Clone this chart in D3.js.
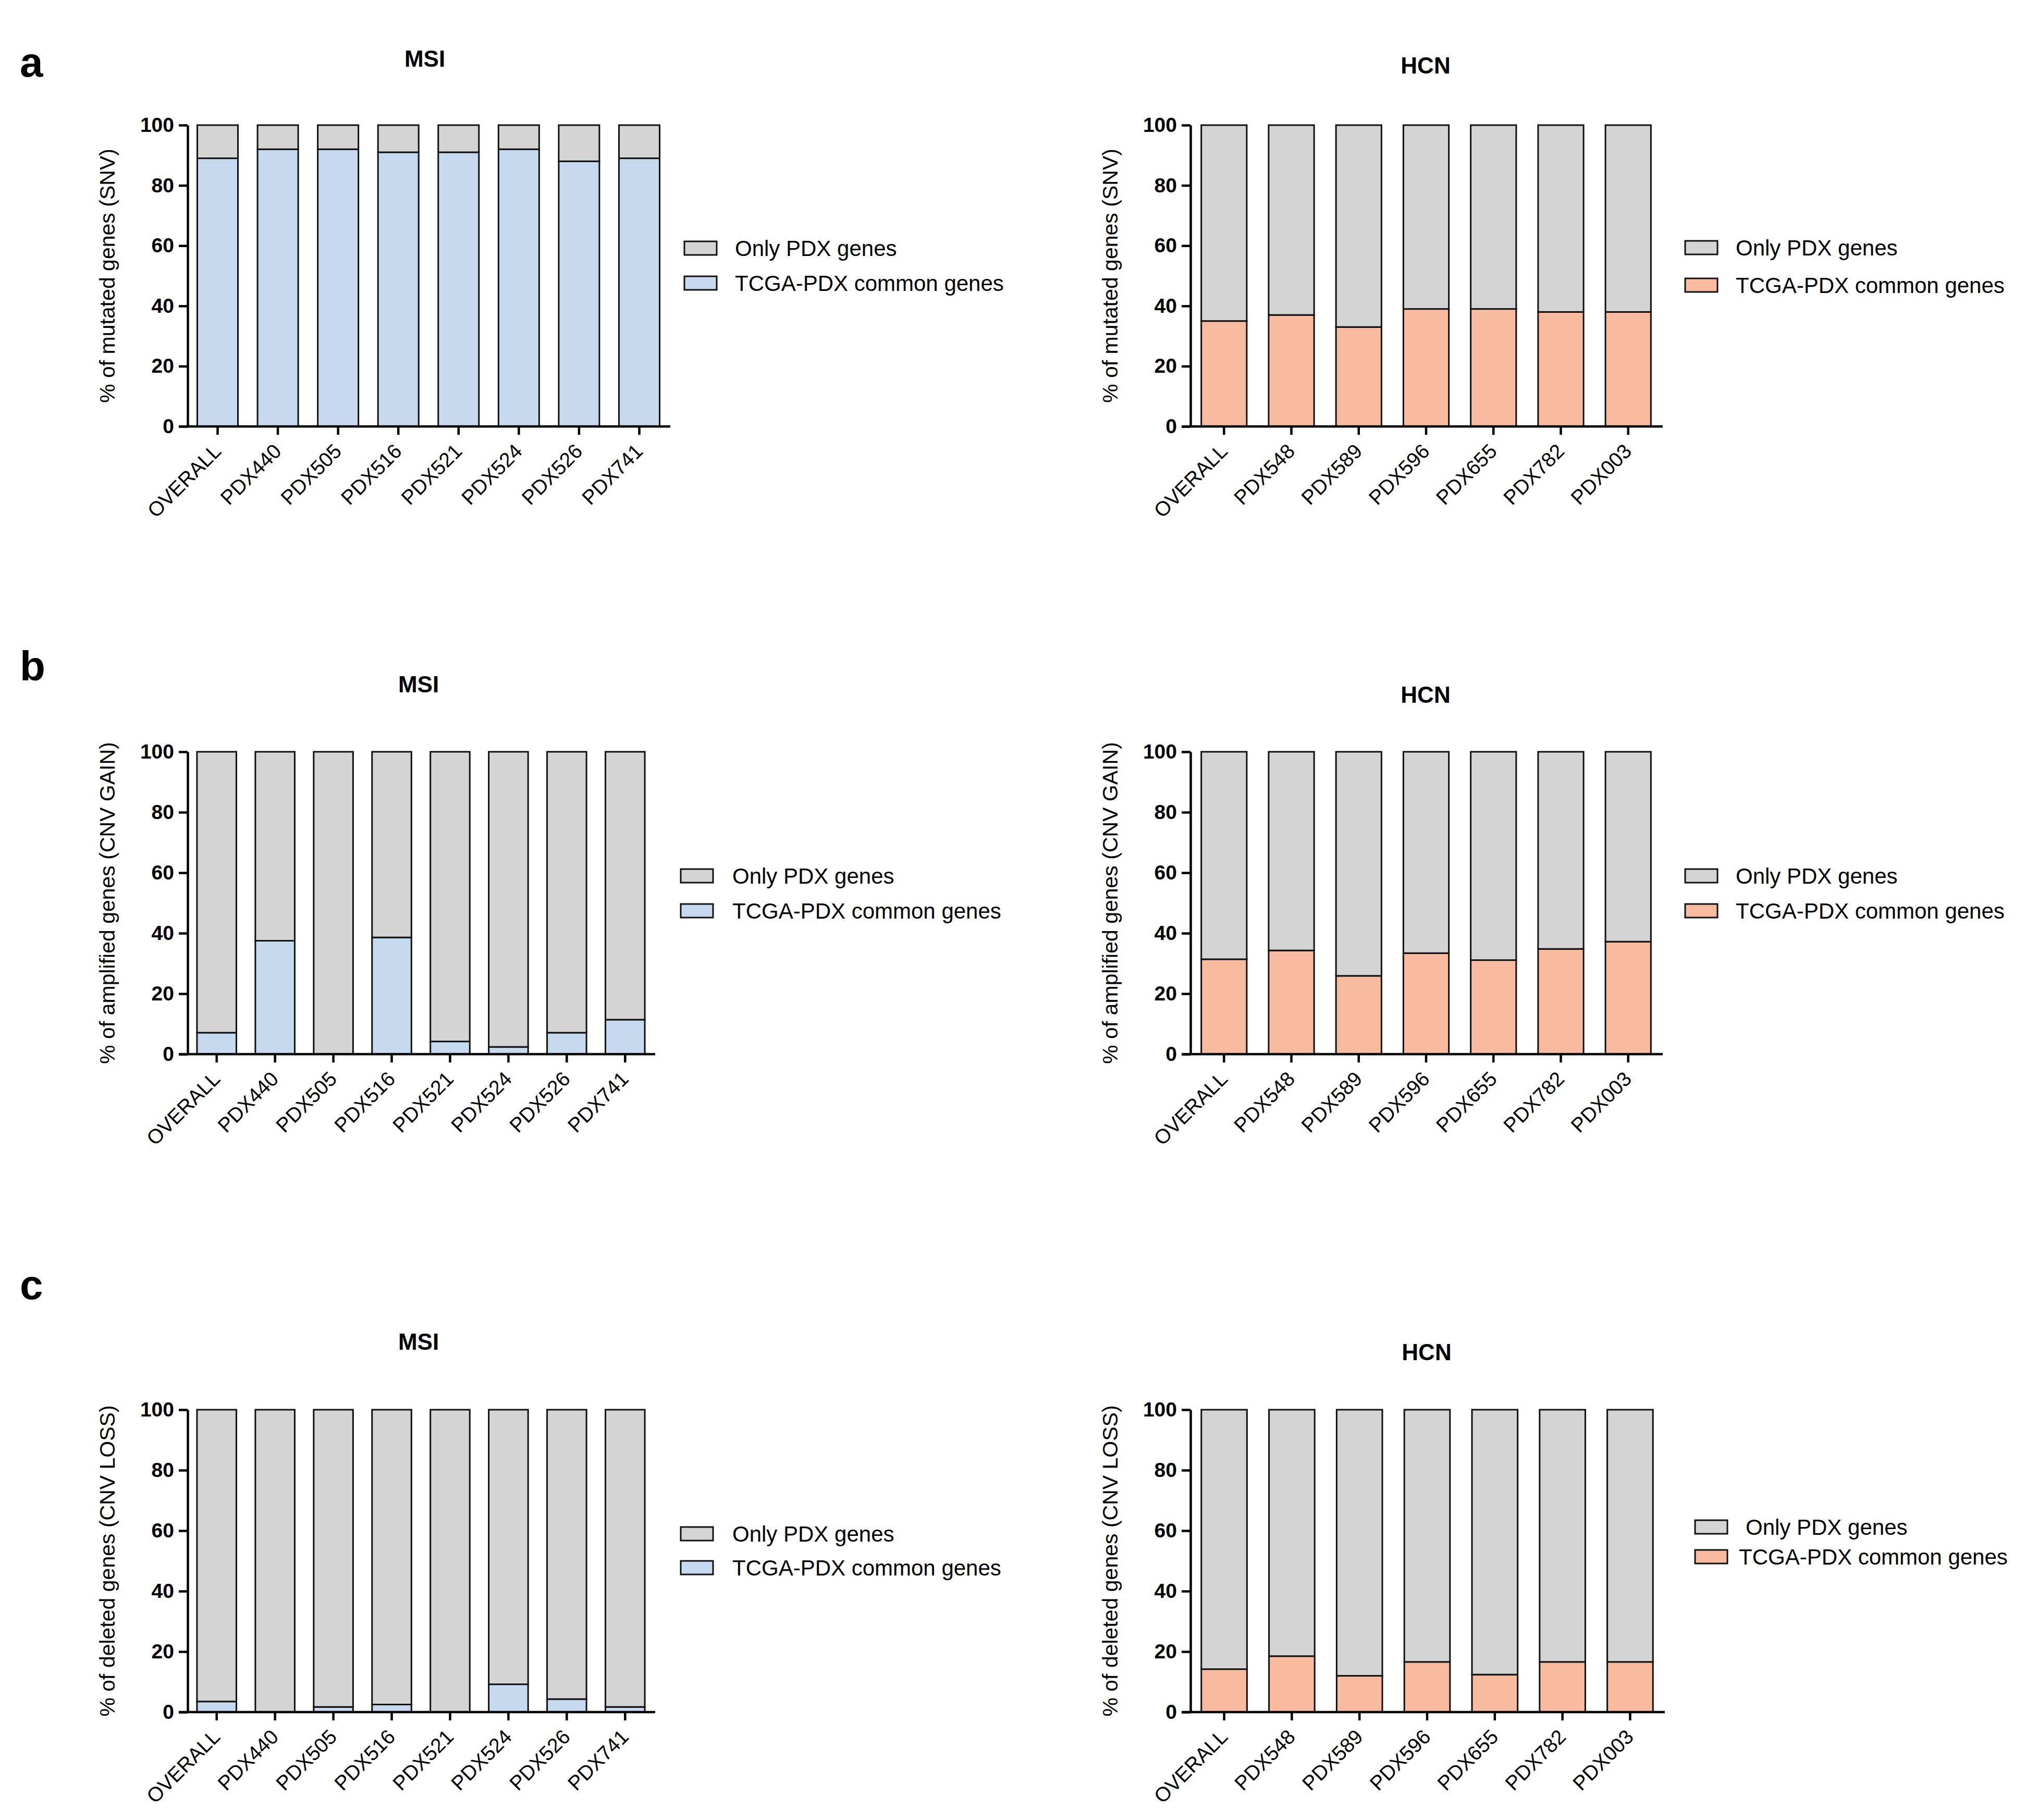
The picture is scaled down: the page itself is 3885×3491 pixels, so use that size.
<!DOCTYPE html>
<html>
<head>
<meta charset="utf-8">
<script src="https://cdn.jsdelivr.net/npm/d3@7/dist/d3.min.js"></script>
<style>
  html, body { margin: 0; padding: 0; background: #fff; }
  svg { display: block; }
  text { font-family: Arial, "Liberation Sans", Helvetica, sans-serif; fill: #000; }
</style>
</head>
<body>
<svg id="chart" width="3885" height="3491"></svg>
<script>
// ---------------- DATA ----------------
const msiCategories = ["OVERALL", "PDX440", "PDX505", "PDX516", "PDX521", "PDX524", "PDX526", "PDX741"];
const hcnCategories = ["OVERALL", "PDX548", "PDX589", "PDX596", "PDX655", "PDX782", "PDX003"];

// % of TCGA-PDX common genes (the remainder up to 100 is "Only PDX genes")
const msiSNV  = [89, 92, 92, 91, 91, 92, 88, 89];
const hcnSNV  = [35, 37, 33, 39, 39, 38, 38];
const msiGain = [7.1, 37.5, 0, 38.6, 4.2, 2.4, 7.1, 11.4];
const hcnGain = [31.4, 34.3, 25.9, 33.4, 31.1, 34.8, 37.2];
const msiLoss = [3.5, 0, 1.7, 2.5, 0, 9.2, 4.3, 1.7];
const hcnLoss = [14.2, 18.5, 12.0, 16.6, 12.4, 16.6, 16.6];

const yTicks = [0, 20, 40, 60, 80, 100];
const seriesNames = ["Only PDX genes", "TCGA-PDX common genes"];
const panelLetters = ["a", "b", "c"];
const groupTitles = ["MSI", "HCN"];
const yAxisLabels = ["% of mutated genes (SNV)", "% of amplified genes (CNV GAIN)", "% of deleted genes (CNV LOSS)"];

// ---------------- STYLE ----------------
const colGray = "#d4d4d4";
const colBlue = "#c6d9ee";
const colSalmon = "#f9bba0";
const stroke = "#111";

const svg = d3.select("#chart");

// layout per row
const rows = [
  { top: 240, bot: 818, letterY: 147,
    msi: { range: [360, 1284], titleX: 815, titleY: 128, legendY: [476, 543], boxX: 1313, textX: [1410, 1410] },
    hcn: { range: [2284, 3188], titleX: 2735, titleY: 141, legendY: [475, 547], boxX: 3233, textX: [3330, 3330] } },
  { top: 1442, bot: 2022, letterY: 1305,
    msi: { range: [360, 1255], titleX: 803, titleY: 1328, legendY: [1680, 1747], boxX: 1306, textX: [1405, 1405] },
    hcn: { range: [2284, 3188], titleX: 2735, titleY: 1348, legendY: [1680, 1747], boxX: 3233, textX: [3330, 3330] } },
  { top: 2704, bot: 3284, letterY: 2492,
    msi: { range: [360, 1255], titleX: 803, titleY: 2589, legendY: [2942, 3007], boxX: 1306, textX: [1405, 1405] },
    hcn: { range: [2284, 3192], titleX: 2737, titleY: 2609, legendY: [2929, 2986], boxX: 3252, textX: [3349, 3336] } }
];

const rowData = [
  { msi: msiSNV, hcn: hcnSNV },
  { msi: msiGain, hcn: hcnGain },
  { msi: msiLoss, hcn: hcnLoss }
];

function drawPanel(rowIdx, group) {
  const row = rows[rowIdx];
  const cfg = row[group];
  const cats = group === "msi" ? msiCategories : hcnCategories;
  const vals = rowData[rowIdx][group];
  const commonColor = group === "msi" ? colBlue : colSalmon;

  const data = cats.map((c, i) => ({ cat: c, common: vals[i], only: 100 - vals[i] }));
  const layers = d3.stack().keys(["common", "only"])(data);

  const x = d3.scaleBand().domain(cats).range(cfg.range).paddingInner(0.325).paddingOuter(0.16);
  const y = d3.scaleLinear().domain([0, 100]).range([row.bot, row.top]);
  const g = svg.append("g");

  // title
  g.append("text").attr("x", cfg.titleX).attr("y", cfg.titleY).attr("text-anchor", "middle")
    .attr("font-size", 44).attr("font-weight", "bold")
    .text(group === "msi" ? groupTitles[0] : groupTitles[1]);

  // bars
  const colors = { common: commonColor, only: colGray };
  layers.forEach(layer => {
    g.append("g").selectAll("rect").data(layer).join("rect")
      .attr("x", d => x(d.data.cat))
      .attr("width", x.bandwidth())
      .attr("y", d => y(d[1]))
      .attr("height", d => Math.max(0, y(d[0]) - y(d[1])))
      .attr("fill", colors[layer.key])
      .attr("stroke", stroke).attr("stroke-width", 3);
  });

  const axisX = cfg.range[0];
  // y axis
  const yAxis = d3.axisLeft(y).tickValues(yTicks).tickSize(17).tickSizeOuter(0).tickPadding(9);
  const ya = g.append("g").attr("transform", `translate(${axisX},0)`).call(yAxis);
  ya.select(".domain").attr("stroke", "#000").attr("stroke-width", 4.5);
  ya.selectAll(".tick line").attr("stroke", "#000").attr("stroke-width", 4.5);
  ya.selectAll(".tick text").attr("font-size", 39).attr("font-weight", "bold")
    .attr("font-family", "Arial, 'Liberation Sans', sans-serif").attr("fill", "#000");

  // x axis
  const xAxis = d3.axisBottom(x).tickSize(16).tickSizeOuter(0).tickFormat("");
  const xa = g.append("g").attr("transform", `translate(0,${row.bot})`).call(xAxis);
  xa.select(".domain").remove();
  xa.selectAll(".tick line").attr("stroke", "#000").attr("stroke-width", 4.5);
  g.append("line").attr("x1", axisX - 17).attr("x2", cfg.range[1] + 2)
    .attr("y1", row.bot).attr("y2", row.bot).attr("stroke", "#000").attr("stroke-width", 4.5);

  // x tick labels rotated
  g.append("g").selectAll("text").data(cats).join("text")
    .attr("transform", d => `translate(${x(d) + x.bandwidth() / 2 + 9},${row.bot + 50}) rotate(-45)`)
    .attr("text-anchor", "end").attr("font-size", 39).text(d => d);

  // y axis label
  const lx = group === "msi" ? 220 : 2144;
  g.append("text").attr("transform", `translate(${lx},${(row.top + row.bot) / 2}) rotate(-90)`)
    .attr("text-anchor", "middle").attr("font-size", 41).text(yAxisLabels[rowIdx]);

  // legend
  const legendColors = [colGray, commonColor];
  seriesNames.forEach((name, i) => {
    const cy = cfg.legendY[i];
    g.append("rect").attr("x", cfg.boxX).attr("y", cy - 13).attr("width", 62).attr("height", 26)
      .attr("fill", legendColors[i]).attr("stroke", stroke).attr("stroke-width", 3);
    g.append("text").attr("x", cfg.textX[i]).attr("y", cy).attr("dy", "0.36em")
      .attr("font-size", 42).text(name);
  });
}

rows.forEach((row, i) => {
  svg.append("text").attr("x", 38).attr("y", row.letterY)
    .attr("font-size", 80).attr("font-weight", "bold").text(panelLetters[i]);
  drawPanel(i, "msi");
  drawPanel(i, "hcn");
});
</script>
</body>
</html>
